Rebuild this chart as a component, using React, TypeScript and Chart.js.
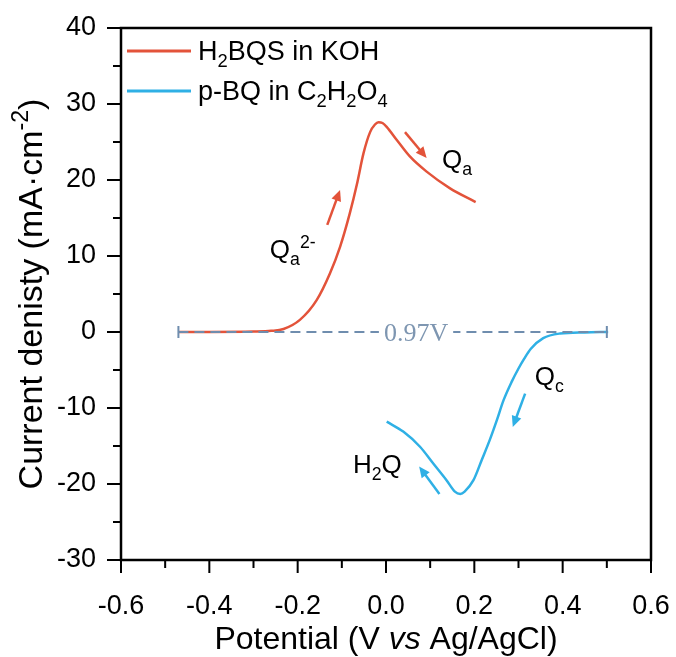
import React, { useEffect, useRef } from "react";
import { Chart, registerables } from "chart.js";

Chart.register(...registerables);

// ---- data ----
const redPotential = [-0.47, -0.4, -0.3, -0.26, -0.232, -0.195, -0.157, -0.127, -0.104, -0.082, -0.066, -0.051, -0.036, -0.025, -0.017, -0.008, 0.0015, 0.024, 0.054, 0.092, 0.145, 0.203];
const redCurrent = [0, 0, 0.05, 0.15, 0.4, 1.6, 4.2, 7.7, 11.2, 15.6, 19.4, 23.5, 26.3, 27.3, 27.6, 27.5, 27.0, 25.3, 23.1, 21.1, 18.9, 17.1];

const bluePotential = [0.0016, 0.039, 0.077, 0.107, 0.137, 0.156, 0.168, 0.178, 0.198, 0.217, 0.235, 0.251, 0.266, 0.285, 0.3, 0.313, 0.328, 0.356, 0.394, 0.45, 0.503];
const blueCurrent = [-11.8, -13.1, -15.1, -17.3, -19.5, -21.0, -21.3, -21.0, -19.5, -16.8, -14.2, -11.6, -9.0, -6.5, -4.8, -3.5, -2.2, -0.8, -0.2, -0.05, 0];

const xTickValues = [-0.6, -0.4, -0.2, 0, 0.2, 0.4, 0.6];
const xMinorValues = [-0.5, -0.3, -0.1, 0.1, 0.3, 0.5];
const yTickValues = [-30, -20, -10, 0, 10, 20, 30, 40];
const yMinorValues = [-25, -15, -5, 5, 15, 25, 35];

// reference line (V) and its label
const refLine = [-0.47, 0.5];
const refLabel = "0.97V";
const refLabelX = 0.068;

// arrows: [tailX, tailY, tipX, tipY]
const redArrows = [
  [-0.133, 14.1, -0.104, 18.7],
  [0.043, 26.3, 0.092, 22.9],
];
const blueArrows = [
  [0.315, -8.1, 0.287, -12.5],
  [0.121, -21.3, 0.075, -17.7],
];

type Seg = { t: string; k?: "sub" | "sup"; i?: boolean };
// annotation labels: left-baseline anchor in data coordinates
const annLabels: { x: number; y: number; segs: Seg[] }[] = [
  { x: 0.127, y: 21.6, segs: [{ t: "Q" }, { t: "a", k: "sub" }] },
  { x: -0.263, y: 9.7, segs: [{ t: "Q" }, { t: "a", k: "sub" }, { t: "2-", k: "sup" }] },
  { x: 0.337, y: -7.0, segs: [{ t: "Q" }, { t: "c", k: "sub" }] },
  { x: -0.075, y: -18.6, segs: [{ t: "H" }, { t: "2", k: "sub" }, { t: "Q" }] },
];

const legendItems: { color: string; segs: Seg[] }[] = [
  { color: "#E3533A", segs: [{ t: "H" }, { t: "2", k: "sub" }, { t: "BQS in KOH" }] },
  { color: "#2FB0E5", segs: [{ t: "p-BQ in C" }, { t: "2", k: "sub" }, { t: "H" }, { t: "2", k: "sub" }, { t: "O" }, { t: "4", k: "sub" }] },
];

const xTitle: Seg[] = [{ t: "Potential (V " }, { t: "vs", i: true }, { t: " Ag/AgCl)" }];
const yTitle: Seg[] = [{ t: "Current denisty (mA\u00B7cm" }, { t: "-2", k: "sup" }, { t: ")" }];

const SANS = "'Liberation Sans', Arial, sans-serif";

function richWidth(ctx: CanvasRenderingContext2D, segs: Seg[], size: number, family: string) {
  let w = 0;
  for (const s of segs) {
    const fs = s.k ? size * 0.68 : size;
    ctx.font = `${s.i ? "italic " : ""}${fs}px ${family}`;
    w += ctx.measureText(s.t).width;
  }
  return w;
}

function drawRich(
  ctx: CanvasRenderingContext2D,
  segs: Seg[],
  x: number,
  y: number,
  size: number,
  color: string,
  family: string,
  align: "left" | "center" = "left"
) {
  const total = richWidth(ctx, segs, size, family);
  let cx = align === "center" ? x - total / 2 : x;
  ctx.save();
  ctx.fillStyle = color;
  ctx.textBaseline = "alphabetic";
  ctx.textAlign = "left";
  for (const s of segs) {
    const fs = s.k ? size * 0.68 : size;
    ctx.font = `${s.i ? "italic " : ""}${fs}px ${family}`;
    const dy = s.k === "sub" ? size * 0.27 : s.k === "sup" ? -size * 0.4 : 0;
    ctx.fillText(s.t, cx, y + dy);
    cx += ctx.measureText(s.t).width;
  }
  ctx.restore();
}

function drawArrow(ctx: CanvasRenderingContext2D, x1: number, y1: number, x2: number, y2: number, color: string) {
  const ang = Math.atan2(y2 - y1, x2 - x1);
  const hl = 11;
  const hw = 5;
  ctx.save();
  ctx.strokeStyle = color;
  ctx.fillStyle = color;
  ctx.lineWidth = 2.5;
  ctx.beginPath();
  ctx.moveTo(x1, y1);
  ctx.lineTo(x2 - Math.cos(ang) * hl * 0.8, y2 - Math.sin(ang) * hl * 0.8);
  ctx.stroke();
  ctx.beginPath();
  ctx.moveTo(x2, y2);
  ctx.lineTo(x2 - Math.cos(ang) * hl + Math.sin(ang) * hw, y2 - Math.sin(ang) * hl - Math.cos(ang) * hw);
  ctx.lineTo(x2 - Math.cos(ang) * hl - Math.sin(ang) * hw, y2 - Math.sin(ang) * hl + Math.cos(ang) * hw);
  ctx.closePath();
  ctx.fill();
  ctx.restore();
}

const overlayPlugin = {
  id: "overlay",
  afterDatasetsDraw(chart: any) {
    const ctx: CanvasRenderingContext2D = chart.ctx;
    const xs = chart.scales.x;
    const ys = chart.scales.y;
    // reference dashed line
    const lx1 = xs.getPixelForValue(refLine[0]);
    const lx2 = xs.getPixelForValue(refLine[1]);
    const ly = ys.getPixelForValue(0);
    ctx.save();
    ctx.strokeStyle = "#6F8DAE";
    ctx.lineWidth = 2;
    ctx.setLineDash([10, 6]);
    ctx.beginPath();
    ctx.moveTo(lx1, ly);
    ctx.lineTo(lx2, ly);
    ctx.stroke();
    ctx.setLineDash([]);
    ctx.beginPath();
    ctx.moveTo(lx1, ly - 6);
    ctx.lineTo(lx1, ly + 6);
    ctx.moveTo(lx2, ly - 6);
    ctx.lineTo(lx2, ly + 6);
    ctx.stroke();
    // label
    const tx = xs.getPixelForValue(refLabelX);
    ctx.font = "26px 'Liberation Serif', 'Times New Roman', serif";
    const tw = ctx.measureText(refLabel).width;
    ctx.fillStyle = "#ffffff";
    ctx.fillRect(tx - tw / 2 - 5, ly - 13, tw + 10, 26);
    ctx.fillStyle = "#7E96B1";
    ctx.textAlign = "center";
    ctx.textBaseline = "alphabetic";
    ctx.fillText(refLabel, tx, ly + 9);
    ctx.restore();

    for (const a of redArrows) {
      drawArrow(ctx, xs.getPixelForValue(a[0]), ys.getPixelForValue(a[1]), xs.getPixelForValue(a[2]), ys.getPixelForValue(a[3]), "#E3533A");
    }
    for (const a of blueArrows) {
      drawArrow(ctx, xs.getPixelForValue(a[0]), ys.getPixelForValue(a[1]), xs.getPixelForValue(a[2]), ys.getPixelForValue(a[3]), "#2FB0E5");
    }
    for (const l of annLabels) {
      drawRich(ctx, l.segs, xs.getPixelForValue(l.x), ys.getPixelForValue(l.y), 26, "#000", SANS);
    }
  },
  afterDraw(chart: any) {
    const ctx: CanvasRenderingContext2D = chart.ctx;
    const xs = chart.scales.x;
    const ys = chart.scales.y;
    const { left, right, top, bottom } = chart.chartArea;
    ctx.save();
    // frame
    ctx.strokeStyle = "#000";
    ctx.lineWidth = 2.5;
    ctx.strokeRect(left, top, right - left, bottom - top);
    // ticks
    ctx.lineWidth = 2;
    ctx.beginPath();
    for (const v of xTickValues) {
      const px = xs.getPixelForValue(v);
      ctx.moveTo(px, bottom);
      ctx.lineTo(px, bottom + 13);
    }
    for (const v of xMinorValues) {
      const px = xs.getPixelForValue(v);
      ctx.moveTo(px, bottom);
      ctx.lineTo(px, bottom + 8);
    }
    for (const v of yTickValues) {
      const py = ys.getPixelForValue(v);
      ctx.moveTo(left, py);
      ctx.lineTo(left - 14, py);
    }
    for (const v of yMinorValues) {
      const py = ys.getPixelForValue(v);
      ctx.moveTo(left, py);
      ctx.lineTo(left - 8, py);
    }
    ctx.stroke();
    ctx.restore();

    // axis titles
    drawRich(ctx, xTitle, (left + right) / 2, 649, 32, "#000", SANS, "center");
    ctx.save();
    ctx.translate(42, (top + bottom) / 2);
    ctx.rotate(-Math.PI / 2);
    drawRich(ctx, yTitle, 0, 0, 34, "#000", SANS, "center");
    ctx.restore();

    // legend
    legendItems.forEach((it, i) => {
      const y = 51 + i * 40;
      ctx.save();
      ctx.strokeStyle = it.color;
      ctx.lineWidth = 3;
      ctx.beginPath();
      ctx.moveTo(127, y);
      ctx.lineTo(191, y);
      ctx.stroke();
      ctx.restore();
      drawRich(ctx, it.segs, 198, y + 9, 27, "#000", SANS);
    });
  },
};

export default function App() {
  const ref = useRef<HTMLCanvasElement>(null);
  useEffect(() => {
    if (!ref.current) return;
    const chart = new Chart(ref.current, {
      type: "line",
      data: {
        datasets: [
          {
            label: "H2BQS in KOH",
            data: redPotential.map((x, i) => ({ x, y: redCurrent[i] })),
            borderColor: "#E3533A",
            borderWidth: 2.5,
            pointRadius: 0,
            cubicInterpolationMode: "monotone",
            fill: false,
          },
          {
            label: "p-BQ in C2H2O4",
            data: bluePotential.map((x, i) => ({ x, y: blueCurrent[i] })),
            borderColor: "#2FB0E5",
            borderWidth: 2.5,
            pointRadius: 0,
            cubicInterpolationMode: "monotone",
            fill: false,
          },
        ],
      },
      options: {
        animation: false,
        responsive: false,
        devicePixelRatio: 1,
        layout: { padding: { top: 28, right: 25, left: 0, bottom: 0 } },
        plugins: { legend: { display: false }, tooltip: { enabled: false } },
        scales: {
          x: {
            type: "linear",
            min: -0.6,
            max: 0.6,
            afterBuildTicks: (s: any) => {
              s.ticks = xTickValues.map((v) => ({ value: v }));
            },
            afterFit: (s: any) => {
              s.height = 97;
              s.paddingLeft = 0;
              s.paddingRight = 0;
              s.paddingTop = 0;
              s.paddingBottom = 0;
            },
            grid: { display: false, drawTicks: false },
            border: { display: false },
            ticks: {
              padding: 30,
              color: "#000",
              maxRotation: 0,
              autoSkip: false,
              font: { family: SANS, size: 27 },
              callback: (v: any) => Number(v).toFixed(1),
            },
          },
          y: {
            type: "linear",
            min: -30,
            max: 40,
            afterBuildTicks: (s: any) => {
              s.ticks = yTickValues.map((v) => ({ value: v }));
            },
            afterFit: (s: any) => {
              s.width = 121;
              s.paddingLeft = 0;
              s.paddingRight = 0;
              s.paddingTop = 0;
              s.paddingBottom = 0;
            },
            grid: { display: false, drawTicks: false },
            border: { display: false },
            ticks: {
              padding: 25,
              color: "#000",
              autoSkip: false,
              font: { family: SANS, size: 27 },
              callback: (v: any) => String(v),
            },
          },
        },
      },
      plugins: [overlayPlugin],
    });
    return () => chart.destroy();
  }, []);
  return (
    <div style={{ position: "absolute", left: 0, top: 0, width: 676, height: 657, background: "#fff" }}>
      <canvas ref={ref} width={676} height={657} style={{ display: "block" }} />
    </div>
  );
}
